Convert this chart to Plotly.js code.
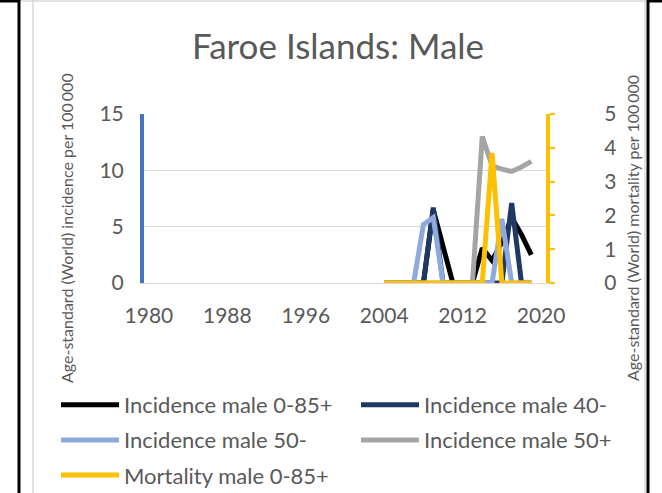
<!DOCTYPE html>
<html>
<head>
<meta charset="utf-8">
<script src="https://cdn.plot.ly/plotly-3.0.1.min.js"></script>
<style>
html,body{margin:0;padding:0;background:#fff;}
#chart{width:662px;height:493px;}
</style>
</head>
<body>
<div id="chart"></div>
<script>
// ---- data ----
const years = [2004,2005,2006,2007,2008,2009,2010,2011,2012,2013,2014,2015,2016,2017,2018,2019];
const incAll   = [0,0,0,0,0,6.5,3.3,0,0,0,3.1,2.0,3.6,5.8,4.3,2.5];
const inc40    = [0,0,0,0,0,6.7,0,0,0,0,0,0,0,7.1,0,0];
const inc50m   = [0,0,0,0,5.2,5.8,0,0,0,0,0,0,5.7,0,0,0];
const inc50p   = [0,0,0,0,0,0,0,0,0,0,13.0,10.4,10.1,9.9,10.3,10.8];
const mortAll  = [0,0,0,0,0,0,0,0,0,0,0,3.85,0,0,0,0];
const xTicks = [1980,1988,1996,2004,2012,2020];
const names = ['Incidence male 0-85+','Incidence male 40-','Incidence male 50-','Incidence male 50+','Mortality male 0-85+'];
const colors = ['#000000','#1F3864','#8EA9DB','#A5A5A5','#FFC000'];
const legendOf = ['legend','legend2','legend','legend2','legend'];

const FONT = 'Lato, "Open Sans", sans-serif';
const TXT = '#595959';

// plot area geometry (pixels)
const L = 144, R = 546, T = 114, B = 283, W = 662, H = 493;
const px = x => (x - L) / (R - L);
const py = y => (B - y) / (B - T);

const series = [incAll, inc40, inc50m, inc50p];
const traces = series.map((s, i) => ({
  x: years, y: s, type: 'scatter', mode: 'lines', name: names[i],
  line: {color: colors[i], width: 5}, yaxis: 'y', legend: legendOf[i], legendgroup: 'g' + i
}));
traces.push({x: years, y: mortAll, type: 'scatter', mode: 'lines', name: names[4],
  line: {color: colors[4], width: 5}, yaxis: 'y2', legend: legendOf[4], legendgroup: 'g4'});

const shapes = [
  // chart area border (light grey)
  {type:'line', xref:'paper', yref:'paper', x0:px(33), x1:px(33), y0:py(0), y1:py(H), line:{color:'#d9d9d9', width:1.5}},
  {type:'line', xref:'paper', yref:'paper', x0:px(645), x1:px(645), y0:py(0), y1:py(H), line:{color:'#d9d9d9', width:1.5}},
  {type:'line', xref:'paper', yref:'paper', x0:px(19), x1:px(647), y0:py(1), y1:py(1), line:{color:'#d9d9d9', width:1.5}},
  // black frame
  {type:'line', xref:'paper', yref:'paper', x0:px(19), x1:px(19), y0:py(0), y1:py(H), line:{color:'#000', width:3}},
  {type:'line', xref:'paper', yref:'paper', x0:px(648), x1:px(648), y0:py(0), y1:py(H), line:{color:'#000', width:3}},
  {type:'line', xref:'paper', yref:'paper', x0:px(0), x1:px(19), y0:py(1), y1:py(1), line:{color:'#000', width:3}},
  {type:'line', xref:'paper', yref:'paper', x0:px(648), x1:px(662), y0:py(1), y1:py(1), line:{color:'#000', width:3}}
];

const legendBase = {orientation: 'v', xref: 'container', yref: 'container', xanchor: 'left',
  y: 1 - 384 / H, yanchor: 'top', itemwidth: 58, traceorder: 'grouped', tracegroupgap: 3.5,
  font: {size: 22, color: TXT, family: FONT}, bgcolor: 'rgba(0,0,0,0)'};

const layout = {
  width: W, height: H,
  margin: {l: L, r: W - R, t: T, b: H - B, pad: 0, autoexpand: false},
  paper_bgcolor: '#fff', plot_bgcolor: '#fff',
  font: {family: FONT, color: TXT},
  title: {text: 'Faroe Islands: Male', font: {size: 35, color: TXT, family: FONT},
          xref: 'container', yref: 'container', x: 338 / W, xanchor: 'center', y: 1 - 47 / H, yanchor: 'middle'},
  xaxis: {type: 'linear', range: [1979.5, 2020.5], tickvals: xTicks, ticktext: xTicks.map(String),
          showgrid: false, zeroline: false, showline: true, linecolor: '#d9d9d9', linewidth: 1,
          ticks: '', ticklabelstandoff: 14, tickfont: {size: 21, color: TXT}, automargin: false},
  yaxis: {range: [0, 15], tickvals: [0, 5, 10, 15], showgrid: true, gridcolor: '#d9d9d9', gridwidth: 1,
          zeroline: false, showline: true, linecolor: '#4472C4', linewidth: 4, ticks: '',
          ticklabelstandoff: 12, tickfont: {size: 21, color: TXT}, automargin: false},
  yaxis2: {range: [0, 5], tickvals: [0, 1, 2, 3, 4, 5], overlaying: 'y', side: 'right', showgrid: false,
           zeroline: false, showline: true, linecolor: '#FFC000', linewidth: 4, ticks: 'outside', ticklen: 5,
           tickwidth: 2, tickcolor: '#FFC000', ticklabelstandoff: 45, tickfont: {size: 21, color: TXT}, automargin: false},
  showlegend: true,
  legend: Object.assign({}, legendBase, {x: 56 / W}),
  legend2: Object.assign({}, legendBase, {x: 356 / W}),
  annotations: [
    {text: 'Age-standard (World) incidence per 100\u2009000', xref: 'paper', yref: 'paper', x: px(66), y: py(228),
     xanchor: 'center', yanchor: 'middle', textangle: -90, showarrow: false, font: {size: 16, color: TXT}},
    {text: 'Age-standard (World) mortality per 100\u2009000', xref: 'paper', yref: 'paper', x: px(632), y: py(228),
     xanchor: 'center', yanchor: 'middle', textangle: -90, showarrow: false, font: {size: 16, color: TXT}}
  ],
  shapes: shapes
};

Plotly.newPlot('chart', traces, layout, {displayModeBar: false, staticPlot: true});
</script>
</body>
</html>
